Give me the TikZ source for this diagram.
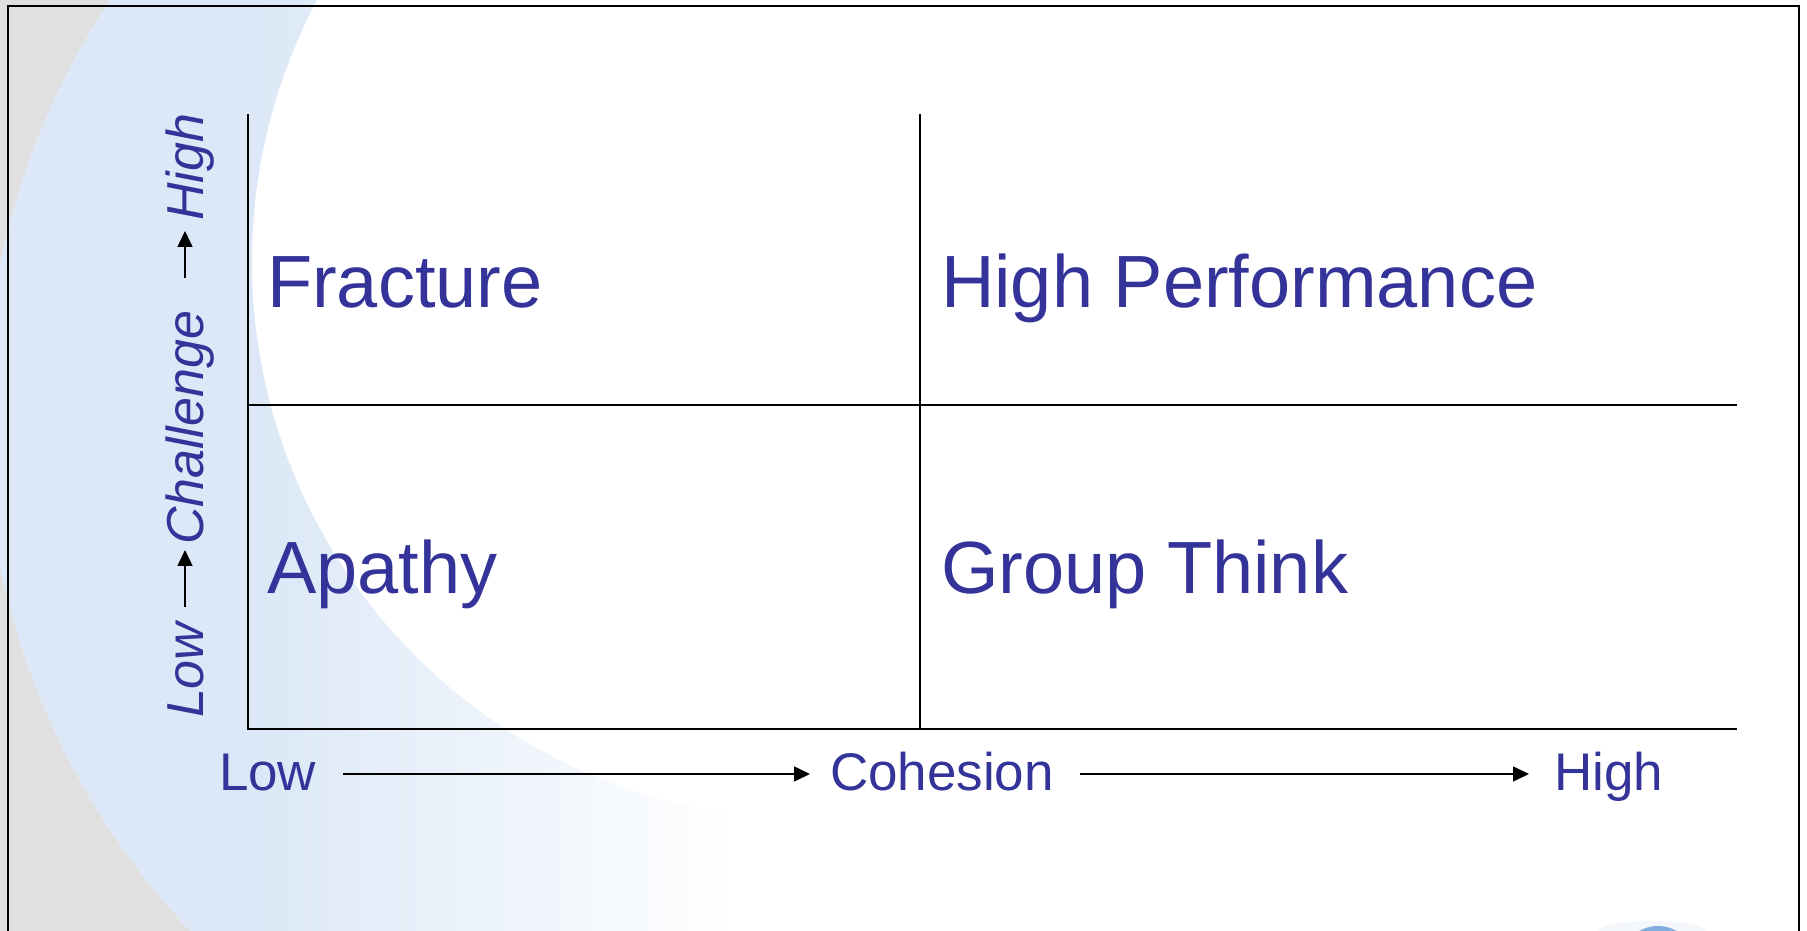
\documentclass[tikz,border=0pt]{standalone}
\usepackage{fontspec}
\setmainfont{Liberation Sans}
\usetikzlibrary{arrows.meta,calc,positioning}
\usepackage{xcolor}
\definecolor{labelblue}{HTML}{333399}
\definecolor{slidegray}{HTML}{E0E0E0}
\definecolor{bandblue}{HTML}{DCE8F7}
\definecolor{dotblue}{HTML}{7FAEDD}
% swoosh stays solid on the left and fades out towards the middle
\pgfdeclarehorizontalshading{bandfade}{100bp}{color(0bp)=(bandblue); color(44bp)=(bandblue); color(71bp)=(white); color(100bp)=(white)}

\begin{document}
\begin{tikzpicture}[
  x=1pt, y=1pt,
  line join=miter,
  every node/.style={inner sep=0pt, outer sep=0pt, text=labelblue},
  quad/.style={anchor=base west, font=\fontsize{74}{80}\selectfont},
  xlabel/.style={anchor=base west, font=\fontsize{53}{58}\selectfont, text height=38pt, text depth=4pt},
  ylabel/.style={anchor=base west, rotate=90, font=\fontsize{52}{57}\selectfont\itshape, text height=37pt, text depth=1pt},
  gridline/.style={line width=2.6pt},
  axarrow/.style={-{Triangle[length=16pt,width=15pt]}, line width=1.5pt},
  frame/.style={line width=1.6pt}
]
  \clip (0,0) rectangle (1807,931);

  % slide background: grey corner, light blue band, white
  \fill[white] (0,0) rectangle (1807,931);
  \fill[slidegray] (0,931) -- (110,931) arc[start angle=146.48, end angle=223.36, radius=751.5pt] -- (0,0) -- cycle;
  \shade[shading=bandfade] (110,931) arc[start angle=146.48, end angle=223.36, radius=751.5pt]
    -- (809.5,0) -- (809.5,111.9) arc[start angle=270, end angle=152.03, radius=557.6pt] -- cycle;
  \fill[bandblue!35!white] (1652,-2) ellipse[x radius=55pt, y radius=12pt];
  \fill[dotblue] (1658,-26) ellipse[x radius=34pt, y radius=31pt];
  \draw[frame] (8,-10) -- (8,925) -- (1799,925) -- (1799,-10);

  % 2x2 grid
  \coordinate (origin) at (248,202);
  \coordinate (ytop) at (248,817);
  \coordinate (xend) at (1737,202);
  \coordinate (midL) at (248,526);
  \coordinate (midR) at (1737,526);
  \coordinate (midT) at (920,817);
  \coordinate (midB) at (920,202);

  \draw[gridline] (ytop) -- (origin) -- (xend);
  \draw[gridline] (midL) -- (midR);
  \draw[gridline] (midT) -- (midB);

  \node[quad] (fracture) at ($(origin)+(19,421)$) {Fracture};
  \node[quad] (highperf) at ($(midB)+(21,421)$) {High Performance};
  \node[quad] (apathy) at ($(origin)+(19,135)$) {Apathy};
  \node[quad] (groupthink) at ($(midB)+(21,135)$) {Group Think};

  % cohesion axis
  \node[xlabel] (xlow) at (219,140) {Low};
  \node[xlabel] (xcoh) at (830,140) {Cohesion};
  \node[xlabel] (xhigh) at (1554,140) {High};
  \draw[axarrow, shorten <=27pt, shorten >=20pt] (xlow) -- (xcoh);
  \draw[axarrow, shorten <=26pt, shorten >=25pt] (xcoh) -- (xhigh);

  % challenge axis, read bottom to top
  \node[ylabel] (ylow) at (203,213) {Low};
  \node[ylabel] (ychal) at (203,386) {Challenge};
  \node[ylabel] (yhigh) at (203,710) {High};
  \draw[axarrow, shorten <=16pt, shorten >=5pt] (ylow) -- (ychal);
  \draw[axarrow, shorten <=33pt, shorten >=10pt] (ychal) -- (yhigh);
\end{tikzpicture}
\end{document}
